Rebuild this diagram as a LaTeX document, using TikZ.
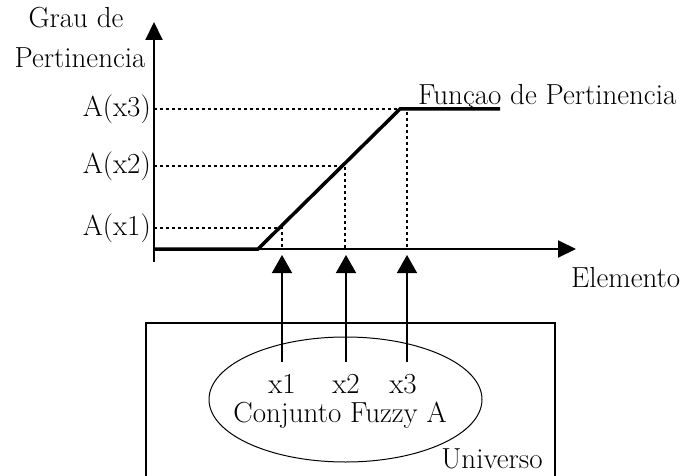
\documentclass[tikz,border=0pt]{standalone}
\usetikzlibrary{arrows.meta,positioning,shapes.geometric}
\tikzset{
  axis/.style={line width=2pt,-{Triangle[length=18pt,width=17pt]}},
  guide/.style={line width=1.2pt,dash pattern=on 3pt off 3pt},
  pointer/.style={line width=1.5pt,-{Triangle[length=18pt,width=20pt]}},
  lbl/.style={inner sep=0pt,font=\fontsize{29}{33}\selectfont}
}
\begin{document}
\begin{tikzpicture}[x=1pt,y=-1pt,every node/.style={lbl}]
\useasboundingbox (0,0) rectangle (680,476);
\fill[white] (0,0) rectangle (680,476);
% axes
\coordinate (ybot) at (154,262);\coordinate (ytop) at (154,22);
\coordinate (O) at (154,249);\coordinate (xend) at (576,249);
\draw[axis] (ybot)--(ytop);
\draw[axis] (O)--(xend);
\node[anchor=base] (grau) at (76,28) {Grau de};
\node[anchor=base] (pert) at (80,68) {Pertinencia};
\node[anchor=base west] (elem) at (571,287) {Elemento};
% membership function
\coordinate (P0) at (258,249);\coordinate (P1) at (400,109);\coordinate (P2) at (500,109);
\draw[line width=3.5pt,line join=miter] (O)--(P0)--(P1)--(P2);
\node[anchor=base west] (func) at (418,105) {Funçao de Pertinencia};
% levels
\coordinate (L1) at (154,228);\coordinate (L2) at (154,166);\coordinate (L3) at (154,109);
\coordinate (H1) at (282,228);\coordinate (H2) at (345,166);\coordinate (H3) at (407,112);
\coordinate (B1) at (282,249);\coordinate (B2) at (345,249);\coordinate (B3) at (407,249);
\node[left=3pt of L1] (a1) {A(x1)};
\node[left=3pt of L2] (a2) {A(x2)};
\node[left=3pt of L3] (a3) {A(x3)};
\draw[guide] (L1)--(H1)--(B1);
\draw[guide] (L2)--(H2)--(B2);
\draw[guide] (L3)--(P1);
\draw[guide] (H3)--(B3);
% universe and fuzzy set
\coordinate (U0) at (146,476);\coordinate (U1) at (146,323);
\coordinate (U2) at (555,323);\coordinate (U3) at (555,476);
\draw[line width=1.3pt] (U0)--(U1)--(U2)--(U3);
\node[draw,ellipse,line width=1pt,minimum width=273pt,minimum height=125pt] (conj) at (345.5,399.5) {};
\node[anchor=base] (x1) at (282,393) {x1};
\node[anchor=base] (x2) at (346,393) {x2};
\node[anchor=base] (x3) at (403,393) {x3};
\node[anchor=base] (nome) at (340,422) {Conjunto Fuzzy A};
\node[anchor=base] (univ) at (492,468) {Universo};
% pointers
\coordinate (s1) at (282,362);\coordinate (t1) at (282,255);
\coordinate (s2) at (346,362);\coordinate (t2) at (346,255);
\coordinate (s3) at (407,362);\coordinate (t3) at (407,255);
\draw[pointer] (s1)--(t1);
\draw[pointer] (s2)--(t2);
\draw[pointer] (s3)--(t3);
\end{tikzpicture}
\end{document}
